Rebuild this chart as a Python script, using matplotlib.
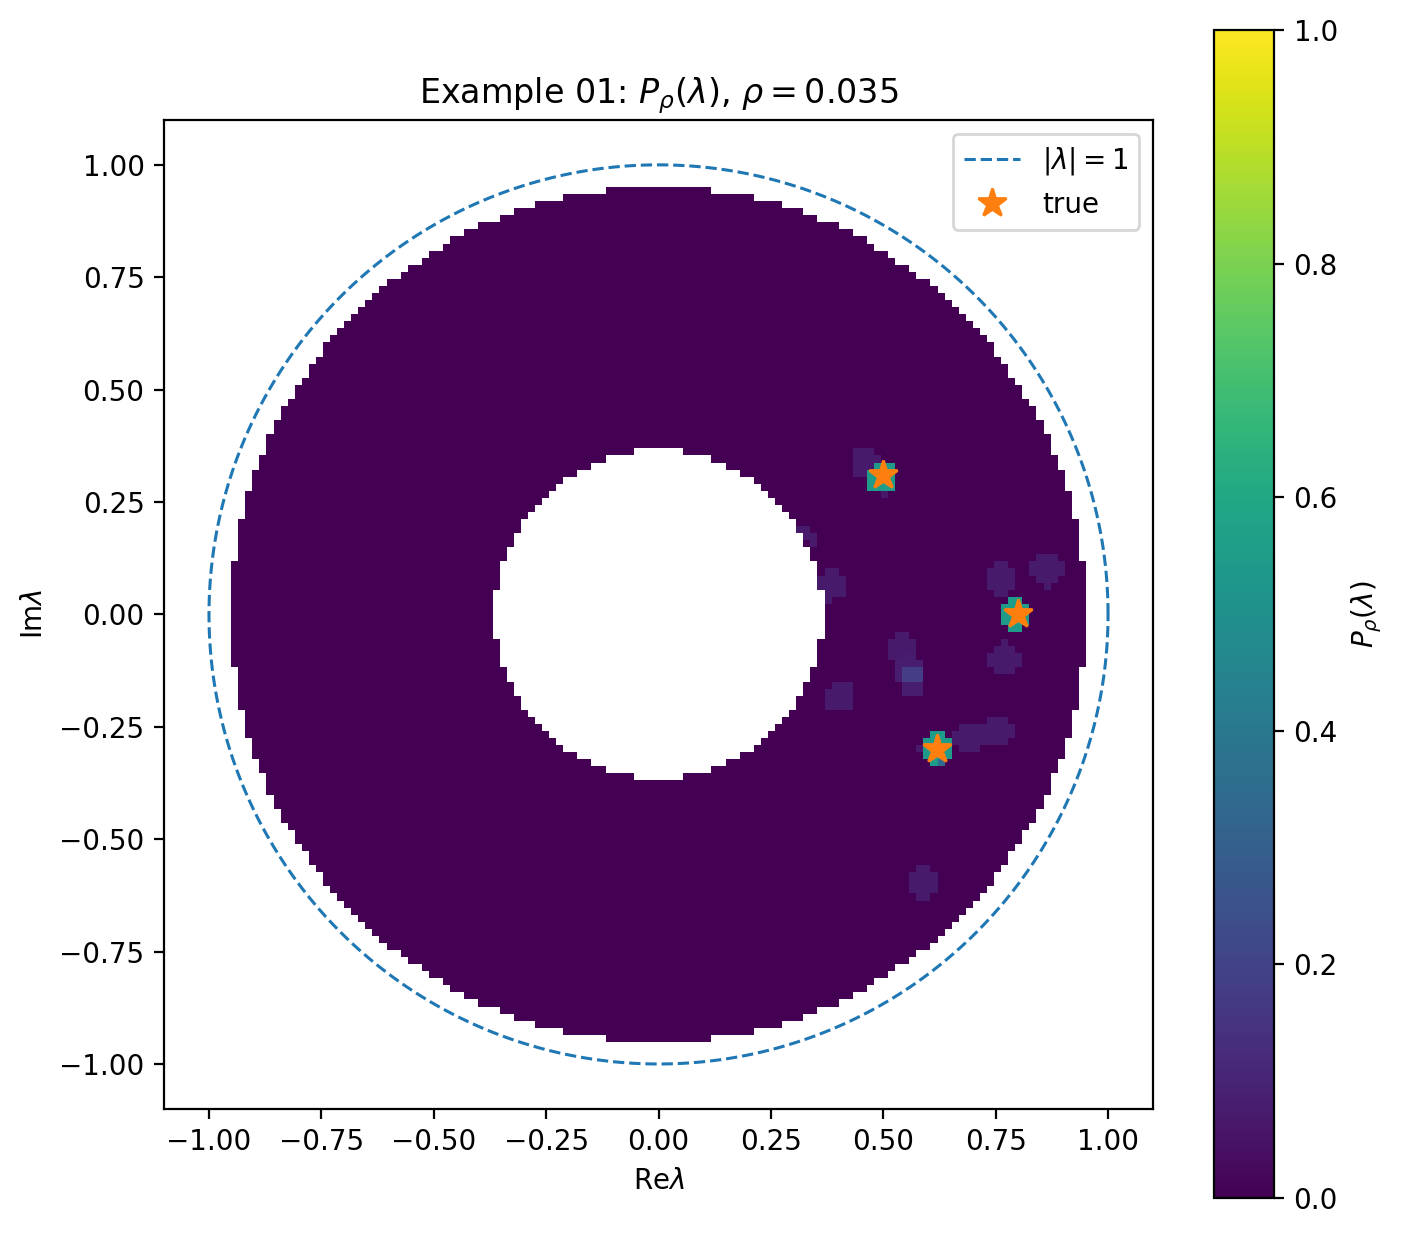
import numpy as np
import matplotlib
matplotlib.use('Agg')
import matplotlib.pyplot as plt

# grid over the complex plane
n_grid = 141
lim = 1.1
r_in, r_out = 0.365, 0.95

# true eigenvalues
true_re = [0.50, 0.80, 0.62]
true_im = [0.31, 0.00, -0.30]

# blobs of P_rho (centre re, centre im, radius, value)
blob_re = [0.460, 0.497, 0.503, 0.322, 0.338, 0.346, 0.383, 0.762, 0.864, 0.794,
           0.770, 0.542, 0.558, 0.566, 0.566, 0.402, 0.618, 0.629, 0.581, 0.691,
           0.754, 0.588]
blob_im = [0.338, 0.305, 0.267, 0.189, 0.173, 0.157, 0.063, 0.079, 0.099, 0.000,
           -0.097, -0.072, -0.126, -0.134, -0.165, -0.182, -0.297, -0.330, -0.299, -0.275,
           -0.259, -0.596]
blob_rad = [0.0314, 0.0346, 0.005, 0.0095, 0.0095, 0.005, 0.033, 0.0346, 0.0369, 0.0346,
            0.0357, 0.033, 0.0346, 0.0189, 0.0189, 0.0346, 0.0338, 0.005, 0.005, 0.033,
            0.033, 0.0339]
blob_val = [0.07, 0.55, 0.06, 0.07, 0.07, 0.07, 0.07, 0.07, 0.07, 0.55,
            0.07, 0.07, 0.08, 0.18, 0.08, 0.07, 0.55, 0.35, 0.07, 0.07,
            0.07, 0.07]

xs = np.linspace(-lim, lim, n_grid)
X, Y = np.meshgrid(xs, xs)
R = np.hypot(X, Y)
P = np.zeros_like(X)
for bx, by, br, bv in zip(blob_re, blob_im, blob_rad, blob_val):
    d = np.hypot(X - bx, Y - by)
    P = np.where(d <= br, np.maximum(P, bv), P)
P[(R < r_in) | (R > r_out)] = np.nan

fig = plt.figure(figsize=(7.01, 6.18), dpi=200)
ax = fig.add_axes([0.117, 0.1028, 0.7054, 0.8002])
cax = fig.add_axes([0.866, 0.0307, 0.0428, 0.945])

mesh = ax.pcolormesh(X, Y, P, shading='nearest', cmap='viridis', vmin=0, vmax=1)
th = np.linspace(0, 2 * np.pi, 400)
ax.plot(np.cos(th), np.sin(th), '--', color='C0', lw=1.1, label=r'$|\lambda| = 1$')
ax.plot(true_re, true_im, '*', color='C1', ms=10.5, ls='none', label='true')

ax.set_xlim(-lim, lim)
ax.set_ylim(-lim, lim)
ticks = [-1.0, -0.75, -0.5, -0.25, 0.0, 0.25, 0.5, 0.75, 1.0]
ax.set_xticks(ticks)
ax.set_yticks(ticks)
ax.set_xlabel(r'Re$\lambda$')
ax.set_ylabel(r'Im$\lambda$')
ax.set_title(r'Example 01: $P_\rho(\lambda)$, $\rho = 0.035$')
ax.legend(loc='upper right')

cb = fig.colorbar(mesh, cax=cax)
cb.set_label(r'$P_\rho(\lambda)$')

fig.savefig('out.png', dpi=200)
